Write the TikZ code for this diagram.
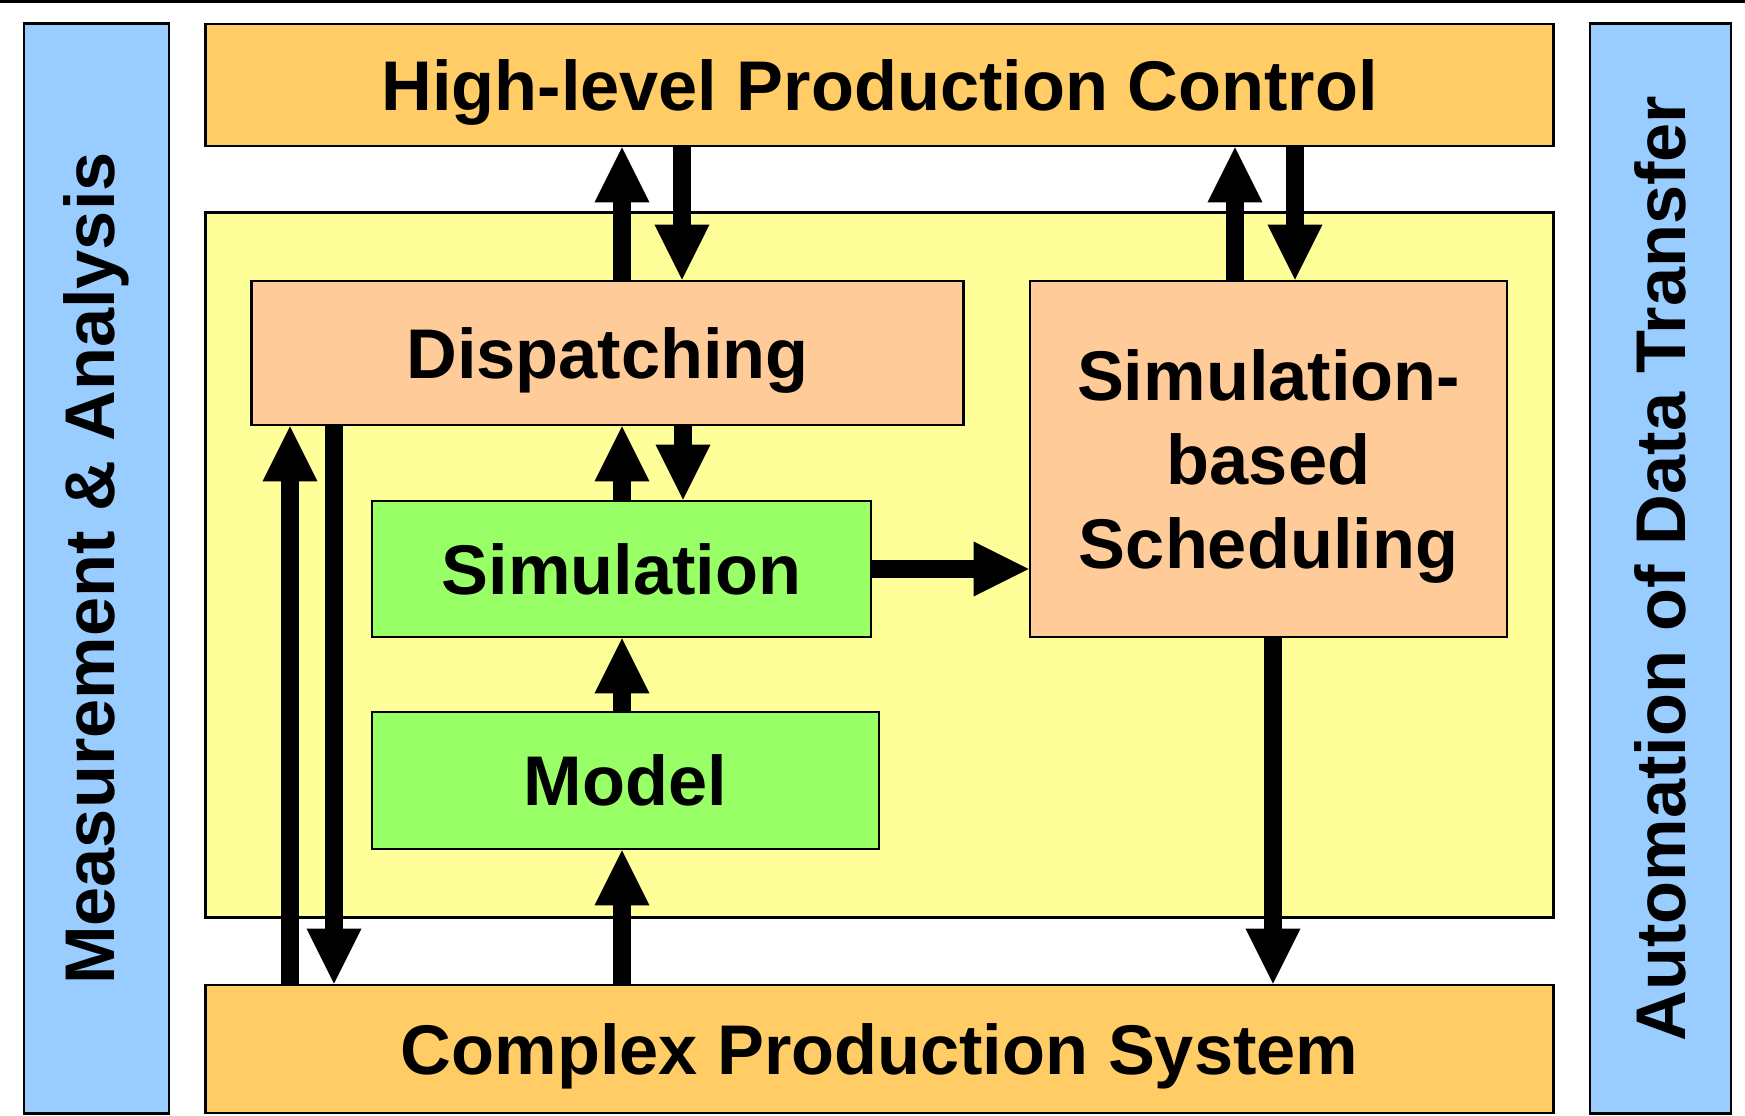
\documentclass[tikz,border=0pt]{standalone}
\usepackage{fontspec}
\setmainfont{Liberation Sans}
\usetikzlibrary{arrows.meta}
\definecolor{cblue}{HTML}{99CCFF}
\definecolor{corange}{HTML}{FFCC66}
\definecolor{cyellow}{HTML}{FFFF99}
\definecolor{cpeach}{HTML}{FFCC99}
\definecolor{cgreen}{HTML}{99FF66}
\tikzset{
  box/.style={draw=black, line width=0.75pt, rectangle, inner sep=0pt, align=center,
    text depth=0pt, font=\fontsize{20}{23.8}\selectfont\bfseries},
  arr/.style={line width=1.8mm, -{Triangle[width=5.5mm,length=5.5mm,line width=0pt]}},
}
\begin{document}
\begin{tikzpicture}[x=0.01cm,y=-0.01cm]
\useasboundingbox (0,0) rectangle (1745,1116);
\fill[white] (0,0) rectangle (1745,1116);
\fill[black] (0,0) rectangle (1745,3);
% side bars
\node[box, fill=cblue, minimum width=1.45cm, minimum height=10.89cm] (meas) at (96.5,568.5) {};
\node[rotate=90, font=\fontsize{20}{24}\selectfont\bfseries] (meastxt) at (meas.center) {Measurement \& Analysis};
\node[box, fill=cblue, minimum width=1.41cm, minimum height=10.89cm] (auto) at (1660.5,568.5) {};
\node[rotate=90, font=\fontsize{20}{24}\selectfont\bfseries] (autotxt) at (auto.center) {Automation of Data Transfer};
% main boxes
\node[box, fill=corange, minimum width=13.47cm, minimum height=1.22cm] (hlpc) at (879.5,85) {High-level Production Control};
\node[box, fill=cyellow, minimum width=13.47cm, minimum height=7.04cm] (area) at (879.5,565) {};
\node[box, fill=corange, minimum width=13.47cm, minimum height=1.28cm] (cps) at (879.5,1049) {Complex Production System};
\node[box, fill=cpeach, minimum width=7.11cm, minimum height=1.44cm] (disp) at (607.5,353) {Dispatching};
\node[box, fill=cgreen, minimum width=4.99cm, minimum height=1.36cm] (sim) at (621.5,569) {Simulation};
\node[box, fill=cgreen, minimum width=5.07cm, minimum height=1.37cm] (model) at (625.5,780.5) {Model};
\node[box, fill=cpeach, minimum width=4.77cm, minimum height=3.56cm] (sbs) at (1268.5,459) {Simulation-\\based\\Scheduling};
% connectors
\draw[arr] (disp.north -| 622,0) -- (hlpc.south -| 622,0);
\draw[arr] (hlpc.south -| 682,0) -- (disp.north -| 682,0);
\draw[arr] (sbs.north -| 1235,0) -- (hlpc.south -| 1235,0);
\draw[arr] (hlpc.south -| 1295,0) -- (sbs.north -| 1295,0);
\draw[arr] (sim.north -| 622,0) -- (disp.south -| 622,0);
\draw[arr] (disp.south -| 683,0) -- (sim.north -| 683,0);
\draw[arr] (model.north -| 622,0) -- (sim.south -| 622,0);
\draw[arr] (cps.north -| 622,0) -- (model.south -| 622,0);
\draw[arr] (cps.north -| 290,0) -- (disp.south -| 290,0);
\draw[arr] (disp.south -| 334,0) -- (cps.north -| 334,0);
\draw[arr] (sim.east) -- (sim.east -| sbs.west);
\draw[arr] (sbs.south -| 1273,0) -- (cps.north -| 1273,0);
\end{tikzpicture}
\end{document}
